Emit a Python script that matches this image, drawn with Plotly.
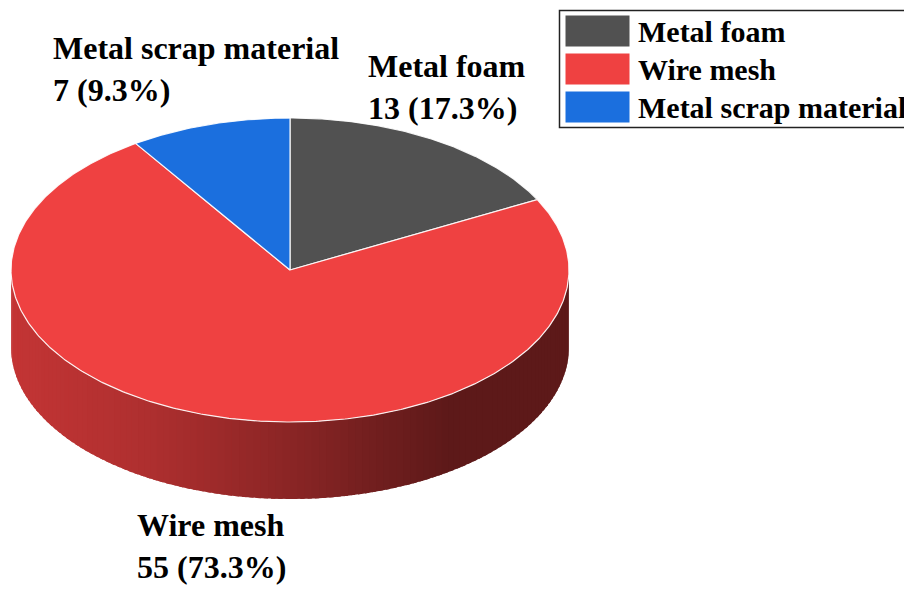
import numpy as np
import plotly.graph_objects as go

# ---- data ----
categories = ["Metal foam", "Wire mesh", "Metal scrap material"]
values = [13, 55, 7]
colors = ["#515151", "#EF4141", "#1B6FDE"]

# ---- geometry (pixel-like layout units) ----
CX, CY, RX, RY, DEPTH = 290, 270, 279, 152, 77
W, H = 912, 590
PAD = 8  # page body margin
FONT = "Liberation Serif"

total = sum(values)
fracs = [v / total for v in values]
starts = np.cumsum([0] + fracs[:-1]) * 360.0
ends = np.cumsum(fracs) * 360.0


def pt(theta_deg, dy=0.0):
    t = np.radians(theta_deg)
    return CX + RX * np.sin(t), CY - RY * np.cos(t) + dy


def shade(hexcol, x):
    f = np.interp(x, [10, 150, 290, 390, 450, 570], [0.82, 0.73, 0.58, 0.46, 0.39, 0.39])
    r, g, b = (int(hexcol[i:i + 2], 16) for i in (1, 3, 5))
    return f"rgb({int(r * f)},{int(g * f)},{int(b * f)})"


fig = go.Figure()

# side wall (front half only: 90..270 deg clockwise from top)
for a0, a1, col in zip(starts, ends, colors):
    s0, s1 = max(a0, 90.0), min(a1, 270.0)
    if s1 <= s0:
        continue
    n = max(2, int((s1 - s0) / 1.5))
    edges = np.linspace(s0, s1, n + 1)
    step = edges[1] - edges[0]
    for e0, e1 in zip(edges[:-1], edges[1:]):
        e1x = min(e1 + step * 0.6, s1)
        ts = np.linspace(e0, e1x, 4)
        xt, yt = pt(ts)
        xb, yb = pt(ts[::-1], DEPTH)
        xs = np.concatenate([xt, xb, xt[:1]])
        ys = np.concatenate([yt, yb, yt[:1]])
        c = shade(col, float(np.mean(pt(np.array([e0, e1]))[0])))
        fig.add_trace(go.Scatter(x=xs, y=ys, mode="lines", fill="toself",
                                 fillcolor=c, line=dict(width=0),
                                 hoverinfo="skip", showlegend=False))

# top slices
for a0, a1, col, name, v in zip(starts, ends, colors, categories, values):
    ts = np.linspace(a0, a1, max(8, int((a1 - a0) * 2)))
    xa, ya = pt(ts)
    xs = np.concatenate([[CX], xa, [CX]])
    ys = np.concatenate([[CY], ya, [CY]])
    fig.add_trace(go.Scatter(x=xs, y=ys, mode="lines", fill="toself",
                             fillcolor=col, line=dict(color="rgba(255,255,255,0.9)", width=1.2),
                             name=name, hoverinfo="text", text=f"{name}: {v}",
                             showlegend=False))

# slice labels
label_pos = {"Metal foam": (366, 87), "Wire mesh": (135, 546), "Metal scrap material": (51, 69)}
annotations = []
for name, v, fr in zip(categories, values, fracs):
    x, y = label_pos[name]
    annotations.append(dict(x=x, y=y, xref="x", yref="y", xanchor="left", yanchor="middle",
                            align="left", showarrow=False,
                            text=f"{name}<br>{v} ({fr * 100:.1f}%)",
                            font=dict(family=FONT, size=32, color="black", weight="bold")))

# legend box
shapes = [dict(type="rect", xref="x", yref="y", x0=559.5, y0=10.5, x1=909.5, y1=127.5,
               line=dict(color="#222222", width=1.5), fillcolor="white", layer="below")]
for i, (name, col) in enumerate(zip(categories, colors)):
    y0 = 15 + i * 38
    shapes.append(dict(type="rect", xref="x", yref="y", x0=565, y0=y0, x1=630, y1=y0 + 32,
                       line=dict(color="white", width=1), fillcolor=col))
    annotations.append(dict(x=636, y=y0 + 16, xref="x", yref="y", xanchor="left", yanchor="middle",
                            showarrow=False, text=name,
                            font=dict(family=FONT, size=30, color="black", weight="bold")))

fig.update_layout(
    width=W - PAD, height=H - PAD, margin=dict(l=0, r=0, t=0, b=0),
    paper_bgcolor="white", plot_bgcolor="white",
    xaxis=dict(range=[PAD, W], visible=False, fixedrange=True),
    yaxis=dict(range=[H, PAD], visible=False, fixedrange=True),
    shapes=shapes, annotations=annotations, showlegend=False,
)

fig.write_html("out.html", config={"displayModeBar": False})
